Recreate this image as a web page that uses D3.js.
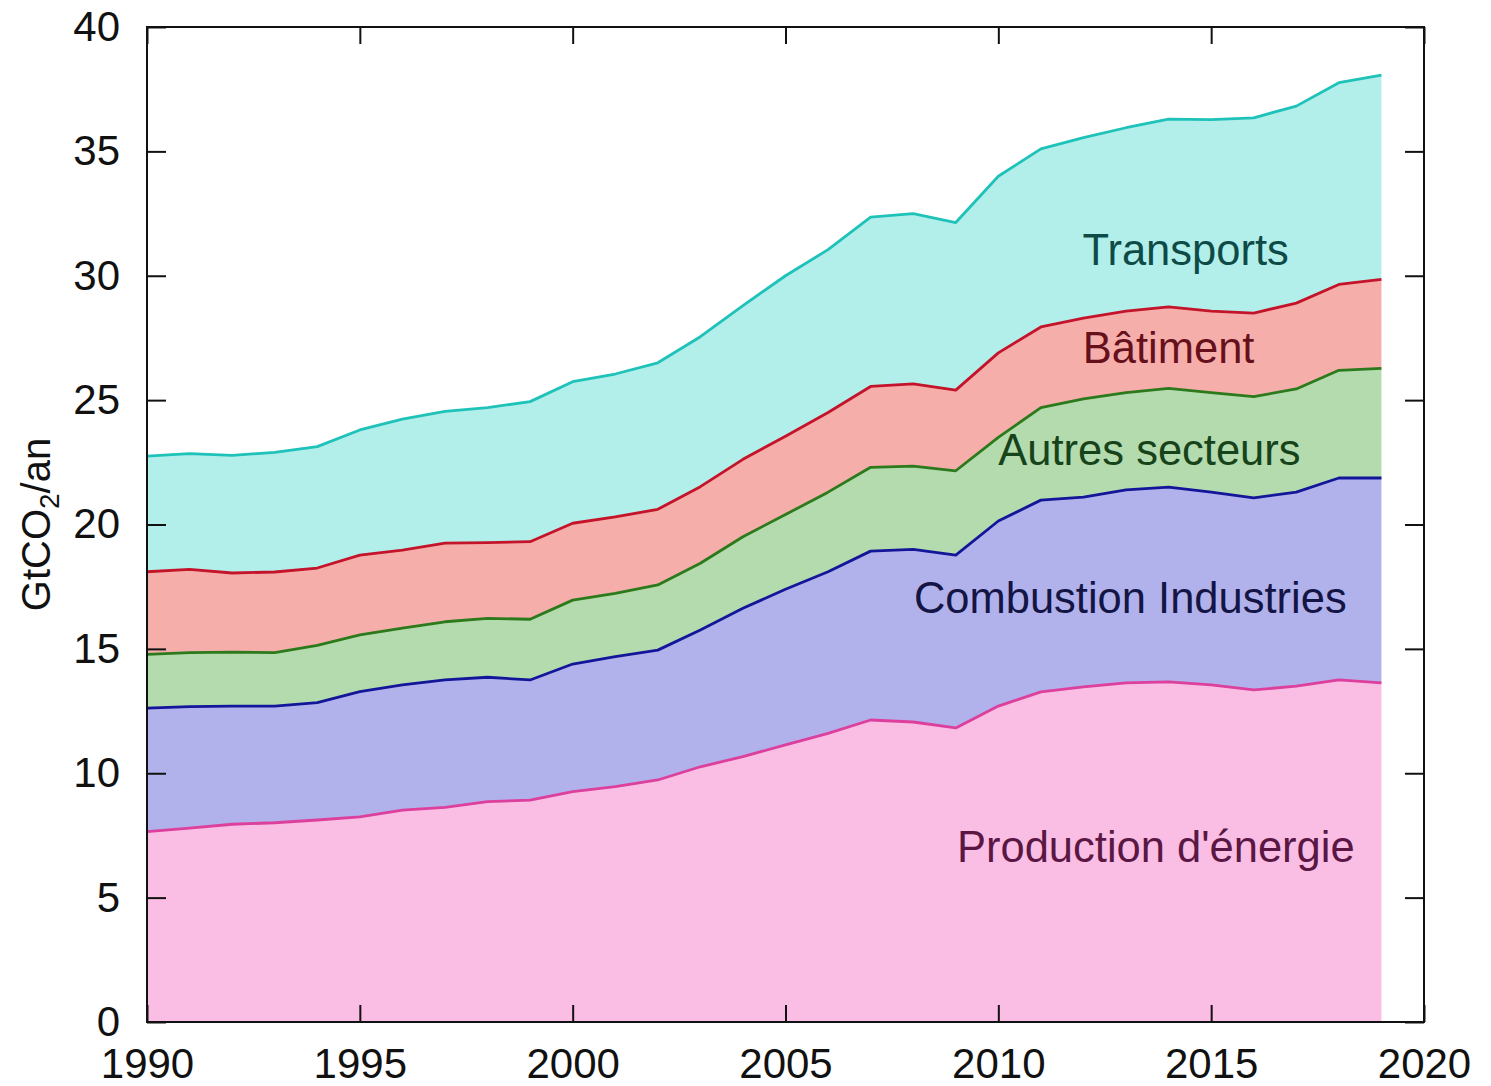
<!DOCTYPE html>
<html lang="fr">
<head>
<meta charset="UTF-8">
<title>Emissions de CO2 par secteur</title>
<script src="https://d3js.org/d3.v7.min.js"></script>
<style>
  body { margin: 0; background: #fff; }
  svg { display: block; background: #fff; }
  text { font-family: "Liberation Sans", Arial, Helvetica, sans-serif; }
</style>
</head>
<body>
<script>
// data (GtCO2/an)
const years = d3.range(1990, 2020);
const energie   = [7.65, 7.79, 7.95, 8.01, 8.12, 8.25, 8.52, 8.63, 8.86, 8.92, 9.26, 9.46, 9.73, 10.26, 10.67, 11.14, 11.6, 12.14, 12.06, 11.82, 12.7, 13.27, 13.47, 13.63, 13.67, 13.55, 13.35, 13.5, 13.75, 13.63];
const industrie = [4.97, 4.89, 4.75, 4.69, 4.72, 5.03, 5.03, 5.12, 5.0, 4.83, 5.13, 5.23, 5.22, 5.5, 5.96, 6.26, 6.5, 6.79, 6.94, 6.95, 7.44, 7.71, 7.63, 7.76, 7.83, 7.75, 7.72, 7.8, 8.12, 8.24];
const autres    = [2.16, 2.17, 2.17, 2.15, 2.3, 2.28, 2.28, 2.34, 2.37, 2.44, 2.57, 2.54, 2.62, 2.68, 2.88, 3.0, 3.2, 3.37, 3.35, 3.39, 3.36, 3.72, 3.95, 3.91, 3.97, 4.0, 4.07, 4.15, 4.33, 4.41];
const batiment  = [3.32, 3.35, 3.18, 3.24, 3.11, 3.21, 3.14, 3.16, 3.04, 3.12, 3.09, 3.08, 3.04, 3.08, 3.11, 3.15, 3.2, 3.25, 3.3, 3.24, 3.4, 3.24, 3.25, 3.28, 3.28, 3.28, 3.36, 3.45, 3.45, 3.57];
const transport = [4.65, 4.65, 4.73, 4.81, 4.88, 5.03, 5.27, 5.3, 5.43, 5.63, 5.69, 5.74, 5.89, 6.03, 6.18, 6.45, 6.55, 6.81, 6.85, 6.74, 7.1, 7.16, 7.25, 7.37, 7.55, 7.7, 7.85, 7.92, 8.11, 8.22];

const keys = ['energie', 'industrie', 'autres', 'batiment', 'transport'];
const labels = ["Production d'énergie", 'Combustion Industries', 'Autres secteurs', 'Bâtiment', 'Transports'];
const xTicks = [1990, 1995, 2000, 2005, 2010, 2015, 2020];
const yTicks = [0, 5, 10, 15, 20, 25, 30, 35, 40];

const fills  = {energie: '#fabee4', industrie: '#b1b2ec', autres: '#b3dbae', batiment: '#f6aeab', transport: '#b2efeb'};
const strokes = {energie: '#dc3f9c', industrie: '#14169a', autres: '#2c7a1c', batiment: '#c4142a', transport: '#1fc2b9'};
const textCol = {energie: '#5a1743', industrie: '#141545', autres: '#17431a', batiment: '#66101c', transport: '#0e4b47'};
// label anchor (year, value of baseline)
const labelPos = {energie: [2013.7, 6.43], industrie: [2013.1, 16.44], autres: [2013.55, 22.39], batiment: [2014.0, 26.49], transport: [2014.4, 30.43]};

const rows = years.map((yr, i) => ({
    year: yr, energie: energie[i], industrie: industrie[i], autres: autres[i],
    batiment: batiment[i], transport: transport[i]
}));

const width = 1491, height = 1086;
const margin = {top: 27, right: 67, bottom: 64, left: 147};

const svg = d3.select('body').append('svg')
    .attr('width', width)
    .attr('height', height);

const x = d3.scaleLinear().domain([1990, 2020]).range([margin.left, width - margin.right]);
const y = d3.scaleLinear().domain([0, 40]).range([height - margin.bottom, margin.top]);

const series = d3.stack().keys(keys)(rows);

const area = d3.area()
    .x(d => x(d.data.year))
    .y0(d => y(d[0]))
    .y1(d => y(d[1]));

const topLine = d3.line()
    .x(d => x(d.data.year))
    .y(d => y(d[1]));

svg.append('g').selectAll('path')
    .data(series)
    .join('path')
    .attr('d', area)
    .attr('fill', d => fills[d.key]);

svg.append('g').selectAll('path')
    .data(series)
    .join('path')
    .attr('d', topLine)
    .attr('fill', 'none')
    .attr('stroke', d => strokes[d.key])
    .attr('stroke-width', 2.8)
    .attr('stroke-linejoin', 'round');

// sector labels
svg.append('g').selectAll('text')
    .data(keys)
    .join('text')
    .attr('x', k => x(labelPos[k][0]))
    .attr('y', k => y(labelPos[k][1]))
    .attr('text-anchor', 'middle')
    .attr('fill', k => textCol[k])
    .style('font-size', '43.5px')
    .text((k, i) => labels[i]);

// axes, ticks pointing inward
const styleAxis = g => {
    g.select('.domain').remove();
    g.selectAll('.tick line').attr('stroke', '#111').attr('stroke-width', 2);
    g.selectAll('.tick text').attr('fill', '#111').style('font-size', '42px').style('font-family', '"Liberation Sans", Arial, sans-serif');
};

svg.append('g')
    .attr('transform', `translate(0,${height - margin.bottom})`)
    .call(d3.axisBottom(x).tickValues(xTicks).tickFormat(d3.format('d')).tickSize(-17).tickPadding(26))
    .call(styleAxis);

svg.append('g')
    .attr('transform', `translate(0,${margin.top})`)
    .call(d3.axisTop(x).tickValues(xTicks).tickFormat('').tickSize(-17))
    .call(styleAxis);

svg.append('g')
    .attr('transform', `translate(${margin.left},0)`)
    .call(d3.axisLeft(y).tickValues(yTicks).tickSize(-19).tickPadding(27))
    .call(styleAxis);

svg.append('g')
    .attr('transform', `translate(${width - margin.right},0)`)
    .call(d3.axisRight(y).tickValues(yTicks).tickFormat('').tickSize(-19))
    .call(styleAxis);

// frame
svg.append('rect')
    .attr('x', margin.left)
    .attr('y', margin.top)
    .attr('width', width - margin.left - margin.right)
    .attr('height', height - margin.top - margin.bottom)
    .attr('fill', 'none')
    .attr('stroke', '#111')
    .attr('stroke-width', 2);

// y axis title
const yTitle = svg.append('text')
    .attr('transform', `translate(50,${(margin.top + height - margin.bottom) / 2}) rotate(-90)`)
    .attr('text-anchor', 'middle')
    .attr('fill', '#111')
    .style('font-size', '40px');
yTitle.append('tspan').text('GtCO');
yTitle.append('tspan').attr('dy', 9).style('font-size', '28px').text('2');
yTitle.append('tspan').attr('dy', -9).text('/an');
</script>
</body>
</html>
